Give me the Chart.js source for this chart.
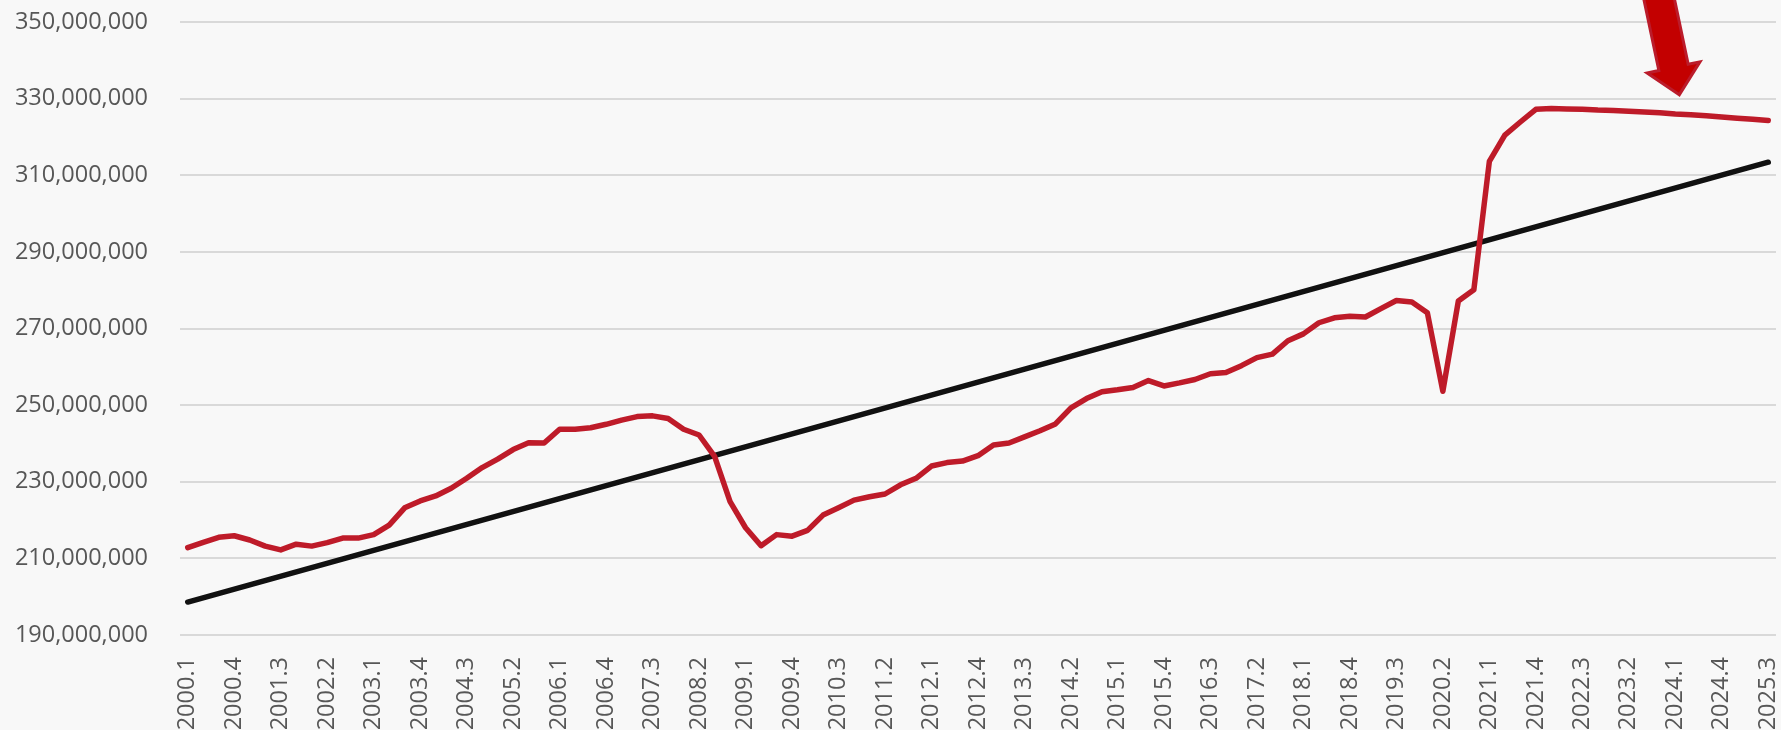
<!DOCTYPE html>
<html>
<head>
<meta charset="utf-8">
<script src="https://cdn.jsdelivr.net/npm/chart.js@4.4.1/dist/chart.umd.min.js"></script>
<style>
  html, body { margin: 0; padding: 0; background: #f8f8f8; }
  #wrap { position: relative; width: 1781px; height: 730px; }
</style>
</head>
<body>
<div id="wrap"><canvas id="chart"></canvas></div>
<script>
// quarters, 2000.1 .. 2025.3
const quarters = [
  '2000.1','2000.2','2000.3','2000.4','2001.1','2001.2','2001.3','2001.4',
  '2002.1','2002.2','2002.3','2002.4','2003.1','2003.2','2003.3','2003.4',
  '2004.1','2004.2','2004.3','2004.4','2005.1','2005.2','2005.3','2005.4',
  '2006.1','2006.2','2006.3','2006.4','2007.1','2007.2','2007.3','2007.4',
  '2008.1','2008.2','2008.3','2008.4','2009.1','2009.2','2009.3','2009.4',
  '2010.1','2010.2','2010.3','2010.4','2011.1','2011.2','2011.3','2011.4',
  '2012.1','2012.2','2012.3','2012.4','2013.1','2013.2','2013.3','2013.4',
  '2014.1','2014.2','2014.3','2014.4','2015.1','2015.2','2015.3','2015.4',
  '2016.1','2016.2','2016.3','2016.4','2017.1','2017.2','2017.3','2017.4',
  '2018.1','2018.2','2018.3','2018.4','2019.1','2019.2','2019.3','2019.4',
  '2020.1','2020.2','2020.3','2020.4','2021.1','2021.2','2021.3','2021.4',
  '2022.1','2022.2','2022.3','2022.4','2023.1','2023.2','2023.3','2023.4',
  '2024.1','2024.2','2024.3','2024.4','2025.1','2025.2','2025.3'
];

// actual series, millions
const actual = [
  212.8, 214.2, 215.5, 215.9, 214.8, 213.2, 212.2, 213.7,
  213.2, 214.1, 215.3, 215.3, 216.2, 218.7, 223.2, 225.0,
  226.3, 228.3, 230.9, 233.7, 235.9, 238.4, 240.2, 240.1,
  243.7, 243.7, 244.1, 245.0, 246.1, 247.0, 247.2, 246.5,
  243.7, 242.2, 236.6, 224.8, 218.0, 213.3, 216.2, 215.8,
  217.3, 221.3, 223.2, 225.2, 226.1, 226.8, 229.2, 230.9,
  234.1, 235.0, 235.4, 236.8, 239.6, 240.1, 241.7, 243.3,
  245.1, 249.3, 251.7, 253.5, 254.0, 254.6, 256.4, 255.0,
  255.8, 256.7, 258.2, 258.5, 260.3, 262.4, 263.3, 266.8,
  268.6, 271.5, 272.8, 273.2, 273.0, 275.2, 277.3, 276.9,
  274.1, 253.6, 277.2, 280.1, 313.6, 320.5, 323.9, 327.2,
  327.4, 327.3, 327.2, 327.0, 326.9, 326.7, 326.5, 326.3,
  326.0, 325.8, 325.5, 325.2, 324.9, 324.6, 324.3
];

// straight trend line, only its two ends
const trendFrom = { x: '2000.1', y: 198.6 };
const trendTo = { x: '2025.3', y: 313.4 };

const yTicks = [190, 210, 230, 250, 270, 290, 310, 330, 350];

const fontFace = "'Open Sans', 'Noto Sans', sans-serif";
const tickColor = '#575757';

// big red arrow in the top right
const arrowPlugin = {
  id: 'arrow',
  afterDatasetsDraw(chart) {
    const { ctx, scales } = chart;
    const tx = scales.x.getPixelForValue(quarters.indexOf('2024.1')) + 4;
    const ty = scales.y.getPixelForValue(331);
    const ang = Math.atan2(95, 20);
    const ux = Math.cos(ang), uy = Math.sin(ang);
    const nx = -uy, ny = ux;
    const headLen = 28, headHalf = 27, shaftHalf = 15, shaftLen = 130;
    const bx = tx - ux * headLen, by = ty - uy * headLen;
    const sx = tx - ux * shaftLen, sy = ty - uy * shaftLen;
    ctx.save();
    ctx.beginPath();
    ctx.moveTo(tx, ty);
    ctx.lineTo(bx + nx * headHalf, by + ny * headHalf);
    ctx.lineTo(bx + nx * shaftHalf, by + ny * shaftHalf);
    ctx.lineTo(sx + nx * shaftHalf, sy + ny * shaftHalf);
    ctx.lineTo(sx - nx * shaftHalf, sy - ny * shaftHalf);
    ctx.lineTo(bx - nx * shaftHalf, by - ny * shaftHalf);
    ctx.lineTo(bx - nx * headHalf, by - ny * headHalf);
    ctx.closePath();
    ctx.fillStyle = '#c30000';
    ctx.fill();
    ctx.lineWidth = 3;
    ctx.strokeStyle = '#bb1c2b';
    ctx.lineJoin = 'miter';
    ctx.stroke();
    ctx.restore();
  },
};

new Chart(document.getElementById('chart'), {
  type: 'line',
  data: {
    labels: quarters,
    datasets: [
      {
        label: 'Actual',
        data: actual,
        borderColor: '#be1b29',
        borderWidth: 5.5,
        pointRadius: 0,
        tension: 0,
        borderJoinStyle: 'round',
        borderCapStyle: 'round',
      },
      {
        label: 'Trend',
        data: [trendFrom, trendTo],
        borderColor: '#111111',
        borderWidth: 5.5,
        pointRadius: 0,
        borderCapStyle: 'round',
      },
    ],
  },
  options: {
    responsive: true,
    maintainAspectRatio: false,
    animation: false,
    layout: { padding: { left: 16, top: 22, right: 5, bottom: 0 } },
    plugins: {
      legend: { display: false },
      tooltip: { enabled: false },
    },
    scales: {
      x: {
        offset: true,
        grid: {
          display: true,
          drawOnChartArea: false,
          drawTicks: true,
          tickLength: 22,
          color: 'rgba(0,0,0,0)',
        },
        border: { display: false },
        ticks: {
          autoSkip: false,
          maxRotation: 90,
          minRotation: 90,
          padding: 0,
          color: tickColor,
          font: { family: fontFace, size: 23.5 },
          callback: (v, i) => (i % 3 === 0 ? quarters[i] : null),
        },
        afterFit: (scale) => {
          scale.height = 95;
          scale.paddingLeft = 0;
          scale.paddingRight = 0;
        },
      },
      y: {
        min: 190,
        max: 350,
        afterBuildTicks: (scale) => {
          scale.ticks = yTicks.map((v) => ({ value: v }));
        },
        grid: {
          color: '#d9d9d9',
          lineWidth: 2,
          drawTicks: true,
          tickLength: 32,
          tickColor: 'rgba(0,0,0,0)',
        },
        border: { display: false },
        ticks: {
          padding: 0,
          color: tickColor,
          font: { family: fontFace, size: 23.5 },
          callback: (v) => (v * 1e6).toLocaleString('en-US'),
        },
        afterFit: (scale) => {
          scale.width = 164;
        },
      },
    },
  },
  plugins: [arrowPlugin],
});
</script>
</body>
</html>
